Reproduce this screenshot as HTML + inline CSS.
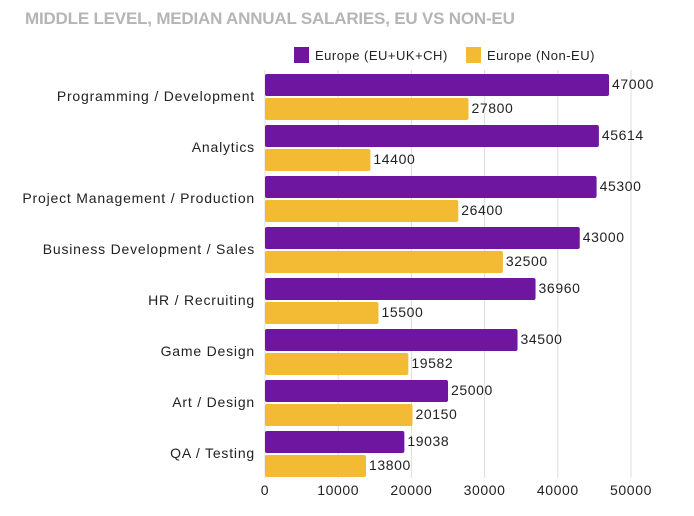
<!DOCTYPE html>
<html><head><meta charset="utf-8"><style>
body{margin:0;background:#fff;width:694px;height:511px;overflow:hidden;font-family:"Liberation Sans",sans-serif}
</style></head><body>
<svg id="chart" width="694" height="511" xmlns="http://www.w3.org/2000/svg">
<text x="25" y="24" font-size="17" font-weight="bold" fill="#b5b5b5" letter-spacing="-0.2">MIDDLE LEVEL, MEDIAN ANNUAL SALARIES, EU VS NON-EU</text>
<g>
<rect x="294" y="47" width="15" height="16" fill="#6f16a0"/>
<text x="315" y="60" font-size="13" letter-spacing="0.5" fill="#222">Europe (EU+UK+CH)</text>
<rect x="466" y="47" width="15" height="16" fill="#f2bb33"/>
<text x="487" y="60" font-size="13" letter-spacing="0.5" fill="#222">Europe (Non-EU)</text>
</g>
<g id="grid"></g><g id="bars"></g><g id="labels"></g>
</svg>
<script>
const categories=["Programming / Development","Analytics","Project Management / Production","Business Development / Sales","HR / Recruiting","Game Design","Art / Design","QA / Testing"];
const euValues=[47000,45614,45300,43000,36960,34500,25000,19038];
const nonEuValues=[27800,14400,26400,32500,15500,19582,20150,13800];
const ticks=[0,10000,20000,30000,40000,50000];
const NS="http://www.w3.org/2000/svg";
const x0=265,x1=631,maxV=50000;
const xs=v=>x0+(x1-x0)*v/maxV;
const rowY=i=>74+51*i;
function mk(tag,attrs,parent){const e=document.createElementNS(NS,tag);for(const k in attrs)e.setAttribute(k,attrs[k]);parent.appendChild(e);return e;}
const grid=document.getElementById('grid'),bars=document.getElementById('bars'),labels=document.getElementById('labels');
ticks.forEach((t,i)=>{
 const l=mk('line',{x1:xs(t),x2:xs(t),y1:70,y2:478,stroke:'#dcdcdc','stroke-width':1},grid);
 
 
 const tx=mk('text',{x:xs(t),y:495,'font-size':14,'letter-spacing':0.6,fill:'#222','text-anchor':'middle'},labels);
 tx.textContent=t;
 
 
});
categories.forEach((c,i)=>{
 const y=rowY(i);
 const cl=mk('text',{x:255,y:y+27,'font-size':14,'letter-spacing':0.8,fill:'#222','text-anchor':'end'},labels);
 cl.textContent=c;
 
 
 const b1=mk('rect',{x:x0,y:y,width:xs(euValues[i])-x0,height:22,rx:2,fill:'#6f16a0'},bars);
 
 
 const b2=mk('rect',{x:x0,y:y+24,width:xs(nonEuValues[i])-x0,height:22,rx:2,fill:'#f2bb33'},bars);
 
 
 const v1=mk('text',{x:xs(euValues[i])+3,y:y+15,'font-size':14,'letter-spacing':0.6,fill:'#222'},labels);
 v1.textContent=euValues[i];
 
 
 const v2=mk('text',{x:xs(nonEuValues[i])+3,y:y+39,'font-size':14,'letter-spacing':0.6,fill:'#222'},labels);
 v2.textContent=nonEuValues[i];
 
 
});
</script>
</body></html>
